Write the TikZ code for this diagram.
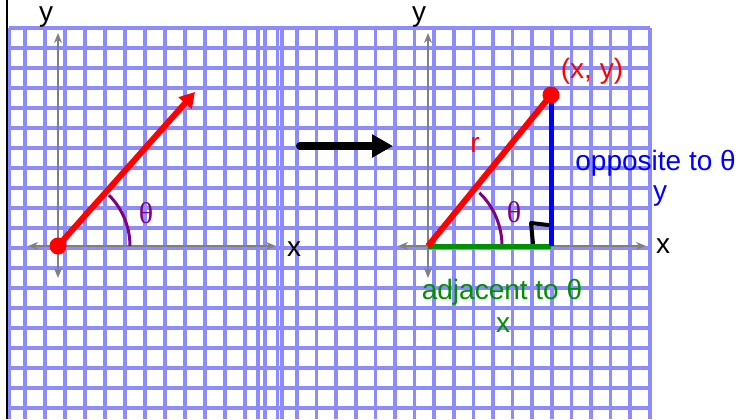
\documentclass[tikz,border=0pt]{standalone}
\usepackage{fontspec}
\setmainfont{Liberation Sans}
\newfontfamily\thetafont{Liberation Serif}
\usetikzlibrary{arrows.meta,positioning}
\definecolor{gridblue}{RGB}{140,140,255}
\definecolor{anglepurple}{RGB}{128,0,128}
\definecolor{sidegreen}{RGB}{0,145,0}

\begin{document}
\begin{tikzpicture}[x=0.5pt,y=-0.5pt,
  gridline/.style={draw=gridblue,line width=1.8pt},
  axis/.style={draw=black!50,line width=1pt,{Stealth[length=5pt,width=4pt]}-{Stealth[length=5pt,width=4pt]}},
  lbl/.style={font=\fontsize{14}{16}\selectfont,inner sep=0pt},
  anglbl/.style={font=\thetafont\fontsize{15}{17}\selectfont,text=anglepurple,inner sep=0pt},
  angarc/.style={draw=anglepurple,line width=1.5pt},
  vec/.style={draw=red,line width=3pt},
  side/.style={line width=2.5pt},
  dot/.style={circle,fill=red,minimum size=8.5pt,inner sep=0pt}
]
\useasboundingbox (0,0) rectangle (742,419);
% left grid
\foreach \gx in {9,25,45,...,265,282}
  \draw[gridline] (\gx,28) -- (\gx,419);
\foreach \gy in {28,48,...,408}
  \draw[gridline] (9,\gy) -- (282,\gy);
% right grid
\foreach \gk in {0,...,20}
  \draw[gridline] (257.8+19.6*\gk,28) -- (257.8+19.6*\gk,419);
\foreach \gy in {28,48,...,408}
  \draw[gridline] (257.8,\gy) -- (649.8,\gy);
\draw[line width=1pt] (7,0) -- (7,419);

\coordinate (O1) at (58,246);
\coordinate (T1) at (195,92);
\coordinate (O2) at (428,246);
\coordinate (P) at (551,95);
\coordinate (F) at (551,246);
\coordinate (go1) at (300,146);
\coordinate (go2) at (393,146);

% axes
\draw[axis] (28,246) -- (276,246);
\draw[axis] (58,278) -- (58,33);
\draw[axis] (398,246) -- (646,246);
\draw[axis] (428,278) -- (428,33);

\node[lbl] (yl) at (46,17) {y};
\node[lbl] (xl) at (294,249) {x};
\node[lbl] (yr) at (419,17) {y};
\node[lbl] (xr) at (663,246) {x};

% left vector
\draw[angarc] (130,246) arc[start angle=0,end angle=-45,radius=72];
\draw[vec,-{Triangle[length=7.5pt,width=8.5pt]}] (O1) -- (T1);
\node[dot] (d1) at (O1) {};
\node[anglbl] (th1) at (146,213) {θ};

\draw[line width=4pt,line cap=round,-{Triangle[length=10.5pt,width=11pt]}] (go1) -- (go2);

% right triangle
\draw[angarc] (502,246) arc[start angle=0,end angle=-46,radius=74];
\draw[line width=2pt,line join=round,line cap=round] (533,244) -- (531,223) -- (548,225);
\draw[side,sidegreen] (O2) -- (F);
\draw[side,blue] (F) -- (P);
\draw[vec] (O2) -- (P);
\node[dot] (d2) at (P) {};
\node[anglbl] (th2) at (514,212) {θ};

\node[lbl,text=red] (pt) at (592,71) {(x, y)};
\node[lbl,text=red] (r) at (475,145) {r};
\node[lbl,text=blue,anchor=west] (opp) at (575,163) {opposite to θ};
\node[lbl,text=blue] (oy) at (660,196) {y};
\node[lbl,text=sidegreen] (adj) at (502,292) {adjacent to θ};
\node[lbl,text=sidegreen] (ax) at (503,325) {x};
\end{tikzpicture}
\end{document}
